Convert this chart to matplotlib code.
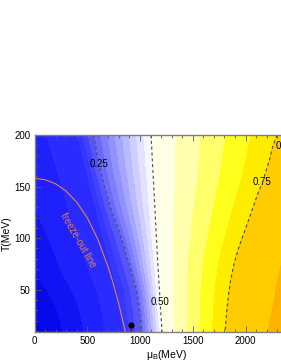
import numpy as np
import matplotlib
matplotlib.use("Agg")
import matplotlib.pyplot as plt
from matplotlib.colors import LinearSegmentedColormap, Normalize
from matplotlib.ticker import MultipleLocator

plt.rcParams['font.family'] = ['Liberation Sans', 'DejaVu Sans']
plt.rcParams['mathtext.fontset'] = 'custom'
plt.rcParams['mathtext.rm'] = 'Liberation Sans'
plt.rcParams['lines.dashed_pattern'] = [2.2, 2.0]
plt.rcParams['lines.scale_dashes'] = False

# field value along the left edge (mu_B = 0) versus T
T_left = [9, 32, 66, 130, 200]
v_left = [0.02, 0.031, 0.0625, 0.094, 0.115]

# contour crossings: (T, mu_B) for each level
T_15 = [9, 50, 100, 150, 200]
mu_15 = [830, 780, 640, 520, 400]
T_25 = [9, 30, 50, 70, 100, 130, 150, 170, 200]
mu_25 = [1015, 995, 965, 910, 825, 720, 665, 615, 560]
T_50 = [9, 38, 89, 150, 200]
mu_50 = [1209, 1190, 1161, 1130, 1104]
T_75 = [9, 20, 30, 45, 59, 75, 89, 105, 122, 140, 156, 175, 190, 200]
mu_75 = [1806, 1814, 1822, 1838, 1858, 1890, 1929, 1985, 2045, 2105,
         2166, 2225, 2261, 2299]
T_80 = [9, 69, 120, 200]
mu_80 = [2213, 2327, 2450, 2650]
mu_far = 3200
v_far = 0.9

# freeze-out line
fo_mu = [0, 100, 200, 300, 400, 500, 600, 700, 750, 800, 850, 870]
fo_T = [158, 156.7, 152.7, 145.6, 134.9, 119.8, 99.0, 71.5, 54.8, 35.7, 14.2, 4.7]

# critical end point and short transition line
cep_mu, cep_T = 915, 16
trans_mu = [915, 925]
trans_T = [16, 0]

# build grid from the read crossings
mu = np.linspace(0, 2500, 700)
T = np.linspace(9, 200, 300)
Z = np.zeros((len(T), len(mu)))
for i, t in enumerate(T):
    xp = [0,
          np.interp(t, T_15, mu_15),
          np.interp(t, T_25, mu_25),
          np.interp(t, T_50, mu_50),
          np.interp(t, T_75, mu_75),
          np.interp(t, T_80, mu_80),
          mu_far]
    fp = [np.interp(t, T_left, v_left), 0.15, 0.25, 0.5, 0.75, 0.8, v_far]
    Z[i] = np.interp(mu, xp, fp)
MU, TT = np.meshgrid(mu, T)

anchors = [
    (0.00, (0, 0, 220)),
    (0.06, (10, 10, 240)),
    (0.12, (35, 38, 255)),
    (0.20, (62, 62, 255)),
    (0.25, (95, 95, 255)),
    (0.50, (255, 255, 255)),
    (0.55, (255, 255, 205)),
    (0.62, (255, 255, 120)),
    (0.68, (255, 255, 20)),
    (0.72, (255, 240, 0)),
    (0.775, (255, 205, 0)),
    (0.825, (255, 178, 0)),
    (1.00, (255, 140, 0)),
]
cmap = LinearSegmentedColormap.from_list(
    'by', [(v, tuple(c / 255 for c in rgb)) for v, rgb in anchors])

levels = np.r_[np.arange(0, 0.5, 1 / 32), np.arange(0.5, 0.951, 0.05)]

fig = plt.figure(figsize=(2.81, 3.63), dpi=100)
ax = fig.add_axes([34.5 / 281, 1 - 332 / 363, 263.75 / 281, 197 / 363])

ax.contourf(MU, TT, Z, levels=levels, cmap=cmap, norm=Normalize(0, 1))
cs = ax.contour(MU, TT, Z, levels=[0.25, 0.5, 0.75], colors='0.3',
                linewidths=0.8, linestyles='--')
labels = ax.clabel(cs, fmt='%.2f', fontsize=7, colors='k', inline=True,
                   inline_spacing=-5,
                   manual=[(612, 172), (1209, 38), (2137, 155)])
for lb in labels:
    lb.set_rotation(0)
ax.text(2374, 189, '0.90', fontsize=7, ha='center', va='center',
        clip_on=False)

ax.plot(fo_mu, fo_T, color='#e0834a', lw=0.8)
ax.text(412, 98, 'freeze-out line', color='#e0834a', fontsize=7,
        rotation=-60, ha='center', va='center')
ax.plot(trans_mu, trans_T, color='#b00000', lw=1.0)
ax.plot([cep_mu], [cep_T], 'o', color='k', ms=3.5)

ax.set_xlim(0, 2500)
ax.set_ylim(9, 200)
ax.set_xticks([0, 500, 1000, 1500, 2000])
ax.xaxis.set_minor_locator(MultipleLocator(100))
ax.yaxis.set_major_locator(MultipleLocator(50))
ax.yaxis.set_minor_locator(MultipleLocator(10))
ax.tick_params(which='both', direction='in', top=True, right=False,
               labelsize=7, color='0.35', width=0.6, pad=3)
ax.tick_params(which='major', length=4)
ax.tick_params(which='minor', length=2)
for sp in ax.spines.values():
    sp.set_color('0.5')
    sp.set_linewidth(1.0)

ax.set_xlabel(r'$\mathregular{\mu_B}$(MeV)', fontsize=7.5, labelpad=1)
ax.set_ylabel('T(MeV)', fontsize=7.5, labelpad=2)

fig.savefig('out.png', dpi=100)
